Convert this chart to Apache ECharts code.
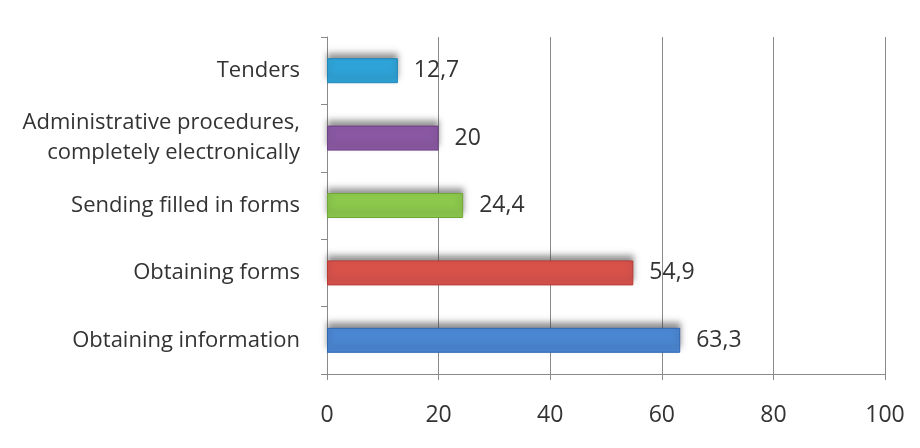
<!DOCTYPE html>
<html>
<head>
<meta charset="utf-8">
<script src="https://cdn.jsdelivr.net/npm/echarts@6/dist/echarts.min.js"></script>
<style>
  html, body { margin: 0; padding: 0; background: #fff; }
  #chart { width: 920px; height: 448px; }
</style>
</head>
<body>
<div id="chart"></div>
<script>
// Categories listed top to bottom
const categories = [
  'Tenders',
  'Administrative procedures,\ncompletely electronically',
  'Sending filled in forms',
  'Obtaining forms',
  'Obtaining information'
];
const values = [12.7, 20, 24.4, 54.9, 63.3];
const barColors = ['#2ea3d8', '#8a58a3', '#8cc84c', '#d8524a', '#4a86d2'];
const barBorders = ['#1f86b8', '#6e4086', '#6fa834', '#b93a33', '#2f67b2'];
const xTicks = [0, 20, 40, 60, 80, 100];

const fontFamily = '"Open Sans", "DejaVu Sans", sans-serif';

const chart = echarts.init(document.getElementById('chart'), null, { renderer: 'canvas' });

chart.setOption({
  animation: false,
  backgroundColor: '#ffffff',
  grid: { left: 327, right: 35, top: 37, bottom: 74, containLabel: false },
  xAxis: {
    type: 'value',
    min: xTicks[0],
    max: xTicks[xTicks.length - 1],
    interval: 20,
    axisLine: { show: true, lineStyle: { color: '#8a8a8a', width: 1 } },
    axisTick: { show: true, length: 6, inside: false, lineStyle: { color: '#8a8a8a' } },
    splitLine: { show: true, lineStyle: { color: '#8a8a8a', width: 1 } },
    axisLabel: { color: '#333', fontSize: 23, fontFamily: fontFamily, margin: 30 }
  },
  yAxis: {
    type: 'category',
    inverse: true,
    data: categories,
    axisLine: { show: true, lineStyle: { color: '#8a8a8a', width: 1 } },
    axisTick: { show: true, length: 6, lineStyle: { color: '#8a8a8a' } },
    axisLabel: { color: '#333', fontSize: 22, fontFamily: fontFamily, margin: 27, lineHeight: 30, align: 'right' }
  },
  series: [{
    type: 'bar',
    barWidth: 25,
    data: values.map((v, i) => ({
      value: v,
      itemStyle: {
        color: barColors[i],
        borderColor: barBorders[i],
        borderWidth: 1,
        shadowColor: 'rgba(60,60,60,0.55)',
        shadowBlur: 6,
        shadowOffsetY: -5,
        shadowOffsetX: 0
      }
    })),
    label: {
      show: true,
      position: 'right',
      distance: 16,
      color: '#333',
      fontSize: 23,
      fontFamily: fontFamily,
      formatter: p => String(p.value).replace('.', ',')
    }
  }]
});
</script>
</body>
</html>
